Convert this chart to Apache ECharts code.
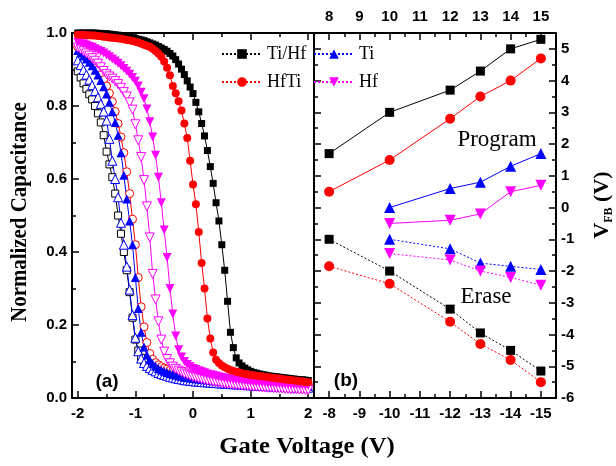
<!DOCTYPE html>
<html>
<head>
<meta charset="utf-8">
<script src="https://cdn.jsdelivr.net/npm/echarts@6/dist/echarts.min.js"></script>
<style>
html, body { margin: 0; padding: 0; background: #fff; }
#chart { width: 616px; height: 466px; }
</style>
</head>
<body>
<div id="chart"></div>
<script>
// gate voltage sweep, -2 V .. 2 V
const gateV = [
  -2, -1.95, -1.9, -1.85, -1.8, -1.75, -1.7, -1.65, -1.6, -1.55,
  -1.5, -1.45, -1.4, -1.35, -1.3, -1.25, -1.2, -1.15, -1.1, -1.05,
  -1, -0.95, -0.9, -0.85, -0.8, -0.75, -0.7, -0.65, -0.6, -0.55,
  -0.5, -0.45, -0.4, -0.35, -0.3, -0.25, -0.2, -0.15, -0.1, -0.05,
  0, 0.05, 0.1, 0.15, 0.2, 0.25, 0.3, 0.35, 0.4, 0.45,
  0.5, 0.55, 0.6, 0.65, 0.7, 0.75, 0.8, 0.85, 0.9, 0.95,
  1, 1.05, 1.1, 1.15, 1.2, 1.25, 1.3, 1.35, 1.4, 1.45,
  1.5, 1.55, 1.6, 1.65, 1.7, 1.75, 1.8, 1.85, 1.9, 1.95,
  2
]
// normalized capacitance, programmed state (filled symbols)
const cvTiHfProg = [
  1.000, 1.000, 1.000, 1.000, 1.000, 1.000, 1.000, 0.999, 0.999, 0.998,
  0.998, 0.997, 0.996, 0.995, 0.994, 0.993, 0.992, 0.990, 0.989, 0.987,
  0.985, 0.983, 0.981, 0.979, 0.976, 0.973, 0.970, 0.967, 0.963, 0.959,
  0.955, 0.950, 0.944, 0.937, 0.927, 0.915, 0.901, 0.886, 0.869, 0.852,
  0.834, 0.810, 0.784, 0.752, 0.718, 0.678, 0.634, 0.588, 0.535, 0.485,
  0.420, 0.350, 0.265, 0.180, 0.138, 0.110, 0.096, 0.088, 0.082, 0.077,
  0.073, 0.070, 0.068, 0.066, 0.064, 0.063, 0.061, 0.060, 0.059, 0.058,
  0.057, 0.056, 0.055, 0.054, 0.053, 0.052, 0.051, 0.050, 0.050, 0.049,
  0.048
]
const cvHfTiProg = [
  0.995, 0.995, 0.995, 0.994, 0.994, 0.993, 0.993, 0.992, 0.991, 0.990,
  0.989, 0.988, 0.987, 0.986, 0.985, 0.984, 0.983, 0.981, 0.980, 0.978,
  0.976, 0.974, 0.971, 0.968, 0.965, 0.962, 0.957, 0.951, 0.944, 0.935,
  0.922, 0.905, 0.884, 0.855, 0.835, 0.813, 0.788, 0.752, 0.712, 0.650,
  0.585, 0.531, 0.455, 0.370, 0.300, 0.218, 0.163, 0.125, 0.105, 0.096,
  0.089, 0.084, 0.080, 0.077, 0.074, 0.072, 0.070, 0.068, 0.066, 0.065,
  0.063, 0.062, 0.061, 0.060, 0.059, 0.058, 0.057, 0.056, 0.055, 0.054,
  0.053, 0.052, 0.051, 0.050, 0.049, 0.048, 0.047, 0.046, 0.045, 0.044,
  0.043
]
const cvTiProg = [
  0.952, 0.945, 0.937, 0.929, 0.920, 0.910, 0.898, 0.885, 0.870, 0.853,
  0.833, 0.810, 0.784, 0.755, 0.720, 0.672, 0.610, 0.545, 0.485, 0.420,
  0.330, 0.245, 0.180, 0.140, 0.118, 0.104, 0.094, 0.087, 0.081, 0.077,
  0.073, 0.070, 0.067, 0.065, 0.063, 0.061, 0.059, 0.057, 0.056, 0.055,
  0.054, 0.053, 0.052, 0.051, 0.050, 0.049, 0.048, 0.047, 0.047, 0.046,
  0.045, 0.045, 0.044, 0.043, 0.043, 0.042, 0.042, 0.041, 0.041, 0.040,
  0.040, 0.039, 0.039, 0.038, 0.038, 0.038, 0.037, 0.037, 0.036, 0.036,
  0.036, 0.035, 0.035, 0.035, 0.034, 0.034, 0.034, 0.033, 0.033, 0.033,
  0.032
]
const cvHfProg = [
  0.975, 0.973, 0.970, 0.967, 0.964, 0.961, 0.957, 0.953, 0.949, 0.945,
  0.940, 0.935, 0.929, 0.923, 0.917, 0.910, 0.903, 0.895, 0.887, 0.878,
  0.868, 0.855, 0.838, 0.820, 0.792, 0.757, 0.715, 0.665, 0.605, 0.535,
  0.460, 0.385, 0.300, 0.230, 0.170, 0.132, 0.112, 0.100, 0.092, 0.086,
  0.081, 0.078, 0.075, 0.072, 0.069, 0.066, 0.064, 0.062, 0.060, 0.058,
  0.056, 0.055, 0.053, 0.052, 0.051, 0.050, 0.049, 0.048, 0.047, 0.046,
  0.045, 0.044, 0.044, 0.043, 0.042, 0.042, 0.041, 0.040, 0.040, 0.039,
  0.039, 0.038, 0.038, 0.037, 0.037, 0.036, 0.036, 0.035, 0.035, 0.034,
  0.034
]
// normalized capacitance, erased state (hollow symbols)
const cvTiHfErase = [
  0.895, 0.878, 0.862, 0.847, 0.832, 0.818, 0.800, 0.780, 0.755, 0.720,
  0.675, 0.640, 0.605, 0.560, 0.500, 0.450, 0.400, 0.350, 0.290, 0.220,
  0.160, 0.130, 0.110, 0.098, 0.090, 0.083, 0.078, 0.074, 0.071, 0.068,
  0.065, 0.063, 0.061, 0.059, 0.057, 0.056, 0.054, 0.053, 0.052, 0.051,
  0.050, 0.049, 0.049, 0.048, 0.047, 0.047, 0.046, 0.045, 0.045, 0.044,
  0.043, 0.043, 0.042, 0.042, 0.041, 0.041, 0.040, 0.040, 0.039, 0.039,
  0.038, 0.038, 0.037, 0.037, 0.036, 0.036, 0.036, 0.035, 0.035, 0.034,
  0.034, 0.034, 0.033, 0.033, 0.033, 0.032, 0.032, 0.032, 0.031, 0.031,
  0.031
]
const cvHfTiErase = [
  0.962, 0.956, 0.950, 0.942, 0.933, 0.922, 0.910, 0.898, 0.886, 0.872,
  0.855, 0.835, 0.812, 0.785, 0.752, 0.715, 0.672, 0.620, 0.560, 0.490,
  0.420, 0.330, 0.250, 0.195, 0.152, 0.122, 0.106, 0.097, 0.091, 0.086,
  0.082, 0.079, 0.076, 0.074, 0.072, 0.070, 0.068, 0.066, 0.065, 0.063,
  0.062, 0.061, 0.060, 0.059, 0.058, 0.057, 0.056, 0.055, 0.054, 0.054,
  0.053, 0.052, 0.051, 0.051, 0.050, 0.049, 0.049, 0.048, 0.047, 0.047,
  0.046, 0.046, 0.045, 0.045, 0.044, 0.044, 0.043, 0.043, 0.042, 0.042,
  0.041, 0.041, 0.040, 0.040, 0.040, 0.039, 0.039, 0.038, 0.038, 0.038,
  0.037
]
const cvTiErase = [
  0.925, 0.912, 0.899, 0.886, 0.872, 0.857, 0.841, 0.824, 0.806, 0.785,
  0.760, 0.710, 0.650, 0.600, 0.550, 0.480, 0.420, 0.360, 0.297, 0.227,
  0.165, 0.128, 0.108, 0.096, 0.088, 0.082, 0.077, 0.073, 0.069, 0.066,
  0.063, 0.061, 0.058, 0.056, 0.054, 0.052, 0.051, 0.049, 0.048, 0.047,
  0.046, 0.045, 0.045, 0.044, 0.043, 0.043, 0.042, 0.041, 0.041, 0.040,
  0.040, 0.039, 0.039, 0.038, 0.038, 0.037, 0.037, 0.036, 0.036, 0.035,
  0.035, 0.034, 0.034, 0.034, 0.033, 0.033, 0.032, 0.032, 0.032, 0.031,
  0.031, 0.031, 0.030, 0.030, 0.030, 0.029, 0.029, 0.029, 0.028, 0.028,
  0.028
]
const cvHfErase = [
  0.960, 0.955, 0.950, 0.944, 0.938, 0.931, 0.924, 0.916, 0.906, 0.896,
  0.887, 0.881, 0.875, 0.868, 0.860, 0.850, 0.838, 0.826, 0.810, 0.790,
  0.750, 0.706, 0.660, 0.597, 0.525, 0.440, 0.340, 0.270, 0.210, 0.160,
  0.127, 0.107, 0.095, 0.086, 0.080, 0.075, 0.071, 0.067, 0.064, 0.061,
  0.058, 0.056, 0.054, 0.052, 0.050, 0.048, 0.047, 0.045, 0.044, 0.043,
  0.041, 0.040, 0.039, 0.038, 0.037, 0.036, 0.035, 0.034, 0.034, 0.033,
  0.032, 0.031, 0.031, 0.030, 0.029, 0.029, 0.028, 0.028, 0.027, 0.027,
  0.026, 0.026, 0.025, 0.025, 0.024, 0.024, 0.024, 0.023, 0.023, 0.022,
  0.022
]

// panel (b): flat-band voltage vs program / erase voltage
const progV = [8, 10, 12, 13, 14, 15]
const eraseV = [-8, -10, -12, -13, -14, -15]
const vfbProgTiHf = [1.7, 3.0, 3.7, 4.3, 5.0, 5.3]
const vfbProgHfTi = [0.5, 1.5, 2.8, 3.5, 4.0, 4.7]
const vfbProgTi = [null, 0.0, 0.6, 0.8, 1.3, 1.7]
const vfbProgHf = [null, -0.5, -0.4, -0.2, 0.5, 0.7]
const vfbEraseTiHf = [-1.0, -2.0, -3.2, -3.95, -4.5, -5.15]
const vfbEraseHfTi = [-1.85, -2.4, -3.6, -4.3, -4.8, -5.5]
const vfbEraseTi = [null, -1.0, -1.3, -1.75, -1.85, -1.95]
const vfbEraseHf = [null, -1.45, -1.65, -2.0, -2.2, -2.45]

// tick positions
const gateMajor = [-2, -1, 0, 1, 2]
const gateMinor = [-1.5, -0.5, 0.5, 1.5]
const capMajor = [0, 0.2, 0.4, 0.6, 0.8, 1.0]
const capMinor = [0.1, 0.3, 0.5, 0.7, 0.9]
const progMajor = [8, 9, 10, 11, 12, 13, 14, 15]
const progMinor = [8.5, 9.5, 10.5, 11.5, 12.5, 13.5, 14.5]
const eraseMajor = [-8, -9, -10, -11, -12, -13, -14, -15]
const eraseMinor = [-8.5, -9.5, -10.5, -11.5, -12.5, -13.5, -14.5]
const vfbMajor = [-6, -5, -4, -3, -2, -1, 0, 1, 2, 3, 4, 5]
const vfbMinor = [-5.5, -4.5, -3.5, -2.5, -1.5, -0.5, 0.5, 1.5, 2.5, 3.5, 4.5]

const BLACK = '#000000'
const RED = '#ff0000'
const BLUE = '#0000ff'
const MAGENTA = '#ff00ff'

const labelFont = {
  color: '#000',
  fontFamily: 'Liberation Sans',
  fontWeight: 'bold',
  fontSize: 15
}

function axis (o) {
  return {
    type: 'value',
    gridIndex: o.grid,
    position: o.pos,
    min: o.min,
    max: o.max,
    inverse: !!o.inverse,
    axisLine: {
      show: !!o.line,
      onZero: false,
      lineStyle: { color: '#000', width: 2 }
    },
    axisTick: {
      show: true,
      inside: true,
      length: o.len,
      customValues: o.ticks,
      lineStyle: { color: '#000', width: 1.5 }
    },
    axisLabel: o.labels ? Object.assign({
      show: true,
      customValues: o.labels,
      margin: o.margin,
      formatter: o.fmt
    }, labelFont) : { show: false },
    splitLine: { show: false },
    axisPointer: { show: false }
  }
}

function cvSeries (name, values, color, symbol, size, hollow, rotate) {
  return {
    name: name,
    type: 'line',
    xAxisIndex: 0,
    yAxisIndex: 0,
    data: gateV.map((v, i) => [v, values[i]]),
    symbol: symbol,
    symbolSize: size,
    symbolRotate: rotate || 0,
    lineStyle: { color: color, width: 1 },
    itemStyle: hollow
      ? { color: '#fff', borderColor: color, borderWidth: 1 }
      : { color: color, borderWidth: 0 },
    emphasis: { disabled: true }
  }
}

function vfbSeries (name, xs, ys, color, symbol, size, erase, rotate) {
  return {
    name: name,
    type: 'line',
    xAxisIndex: erase ? 6 : 4,
    yAxisIndex: 2,
    data: xs.map((v, i) => [v, ys[i]]),
    symbol: symbol,
    symbolSize: size,
    symbolRotate: rotate || 0,
    lineStyle: { color: color, width: 1, type: erase ? [2, 2] : 'solid' },
    itemStyle: { color: color, borderWidth: 0 },
    emphasis: { disabled: true }
  }
}

const chart = echarts.init(document.getElementById('chart'), null, { renderer: 'canvas' })

const option = {
  animation: false,
  backgroundColor: '#fff',
  textStyle: { fontFamily: 'Liberation Sans' },
  grid: [
    { left: 72, top: 33, width: 242, height: 365, outerBoundsMode: 'none' },
    { left: 314, top: 33, width: 242, height: 365, outerBoundsMode: 'none' }
  ],
  legend: [
    {
      data: ['Ti/Hf', 'HfTi'],
      orient: 'vertical',
      left: 221,
      top: 45,
      padding: 0,
      itemWidth: 40,
      itemHeight: 12,
      itemGap: 10,
      selectedMode: false,
      textStyle: { fontFamily: 'Liberation Serif', fontSize: 18, color: '#000', lineHeight: 14 }
    },
    {
      data: ['Ti', 'Hf'],
      orient: 'vertical',
      left: 313,
      top: 45,
      padding: 0,
      itemWidth: 40,
      itemHeight: 12,
      itemGap: 10,
      selectedMode: false,
      textStyle: { fontFamily: 'Liberation Serif', fontSize: 18, color: '#000', lineHeight: 14 }
    }
  ],
  xAxis: [
    axis({ grid: 0, pos: 'bottom', min: -2.1, max: 2.1, line: true, len: 7, ticks: gateMajor, labels: gateMajor, margin: 8 }),
    axis({ grid: 0, pos: 'bottom', min: -2.1, max: 2.1, len: 4, ticks: gateMinor }),
    axis({ grid: 0, pos: 'top', min: -2.1, max: 2.1, line: true, len: 7, ticks: gateMajor }),
    axis({ grid: 0, pos: 'top', min: -2.1, max: 2.1, len: 4, ticks: gateMinor }),
    axis({ grid: 1, pos: 'top', min: 7.5, max: 15.5, line: true, len: 7, ticks: progMajor, labels: progMajor, margin: 9 }),
    axis({ grid: 1, pos: 'top', min: 7.5, max: 15.5, len: 4, ticks: progMinor }),
    axis({ grid: 1, pos: 'bottom', min: -15.5, max: -7.5, inverse: true, line: true, len: 7, ticks: eraseMajor, labels: eraseMajor, margin: 8 }),
    axis({ grid: 1, pos: 'bottom', min: -15.5, max: -7.5, inverse: true, len: 4, ticks: eraseMinor })
  ],
  yAxis: [
    axis({ grid: 0, pos: 'left', min: 0, max: 1, line: true, len: 7, ticks: capMajor, labels: capMajor, margin: 5, fmt: v => v.toFixed(1) }),
    axis({ grid: 0, pos: 'left', min: 0, max: 1, len: 4, ticks: capMinor }),
    axis({ grid: 1, pos: 'right', min: -6, max: 5.5, line: true, len: 7, ticks: vfbMajor, labels: vfbMajor, margin: 5 }),
    axis({ grid: 1, pos: 'right', min: -6, max: 5.5, len: 4, ticks: vfbMinor }),
    axis({ grid: 1, pos: 'left', min: -6, max: 5.5, line: true, len: 7, ticks: vfbMajor }),
    axis({ grid: 1, pos: 'left', min: -6, max: 5.5, len: 4, ticks: vfbMinor })
  ],
  series: [
    // erase first so the legend picks up the dotted style
    vfbSeries('Ti/Hf', eraseV, vfbEraseTiHf, BLACK, 'rect', 9, true),
    vfbSeries('HfTi', eraseV, vfbEraseHfTi, RED, 'circle', 10, true),
    vfbSeries('Ti', eraseV, vfbEraseTi, BLUE, 'triangle', 11, true),
    vfbSeries('Hf', eraseV, vfbEraseHf, MAGENTA, 'triangle', 11, true, 180),
    vfbSeries('Ti/Hf', progV, vfbProgTiHf, BLACK, 'rect', 9, false),
    vfbSeries('HfTi', progV, vfbProgHfTi, RED, 'circle', 10, false),
    vfbSeries('Ti', progV, vfbProgTi, BLUE, 'triangle', 11, false),
    vfbSeries('Hf', progV, vfbProgHf, MAGENTA, 'triangle', 11, false, 180),

    cvSeries('Ti/Hf', cvTiHfErase, BLACK, 'rect', 7, true),
    cvSeries('Ti', cvTiErase, BLUE, 'triangle', 9, true),
    cvSeries('HfTi', cvHfTiErase, RED, 'circle', 8, true),
    cvSeries('Ti', cvTiProg, BLUE, 'triangle', 9, false),
    cvSeries('Hf', cvHfErase, MAGENTA, 'triangle', 9, true, 180),
    cvSeries('Hf', cvHfProg, MAGENTA, 'triangle', 9, false, 180),
    cvSeries('Ti/Hf', cvTiHfProg, BLACK, 'rect', 7, false),
    cvSeries('HfTi', cvHfTiProg, RED, 'circle', 8, false)
  ],
  graphic: [
    {
      type: 'text', x: 20, y: 212, rotation: Math.PI / 2, scaleX: 0.87,
      style: { text: 'Normalized Capacitance', fontFamily: 'Liberation Serif', fontWeight: 'bold', fontSize: 24, fill: '#000', align: 'center', verticalAlign: 'middle' }
    },
    {
      type: 'text', x: 307, y: 447, scaleX: 1.07,
      style: { text: 'Gate Voltage (V)', fontFamily: 'Liberation Serif', fontWeight: 'bold', fontSize: 23, fill: '#000', align: 'center', verticalAlign: 'middle' }
    },
    {
      type: 'text', x: 602, y: 205, rotation: Math.PI / 2,
      style: {
        text: '{v|V}{s|FB}{v| (V)}',
        fill: '#000',
        align: 'center',
        verticalAlign: 'middle',
        rich: {
          v: { fontFamily: 'Liberation Serif', fontWeight: 'bold', fontSize: 22, lineHeight: 26, fill: '#000' },
          s: { fontFamily: 'Liberation Serif', fontWeight: 'bold', fontSize: 12, lineHeight: 12, verticalAlign: 'bottom', fill: '#000' }
        }
      }
    },
    {
      type: 'text', x: 107, y: 382,
      style: { text: '(a)', fontFamily: 'Liberation Sans', fontWeight: 'bold', fontSize: 19, fill: '#000', align: 'center', verticalAlign: 'middle' }
    },
    {
      type: 'text', x: 346, y: 381,
      style: { text: '(b)', fontFamily: 'Liberation Sans', fontWeight: 'bold', fontSize: 19, fill: '#000', align: 'center', verticalAlign: 'middle' }
    },
    {
      type: 'text', x: 497, y: 140,
      style: { text: 'Program', fontFamily: 'Liberation Serif', fontSize: 23, fill: '#000', align: 'center', verticalAlign: 'middle' }
    },
    {
      type: 'text', x: 486, y: 297,
      style: { text: 'Erase', fontFamily: 'Liberation Serif', fontSize: 23, fill: '#000', align: 'center', verticalAlign: 'middle' }
    }
  ]
}

chart.setOption(option)
</script>
</body>
</html>
